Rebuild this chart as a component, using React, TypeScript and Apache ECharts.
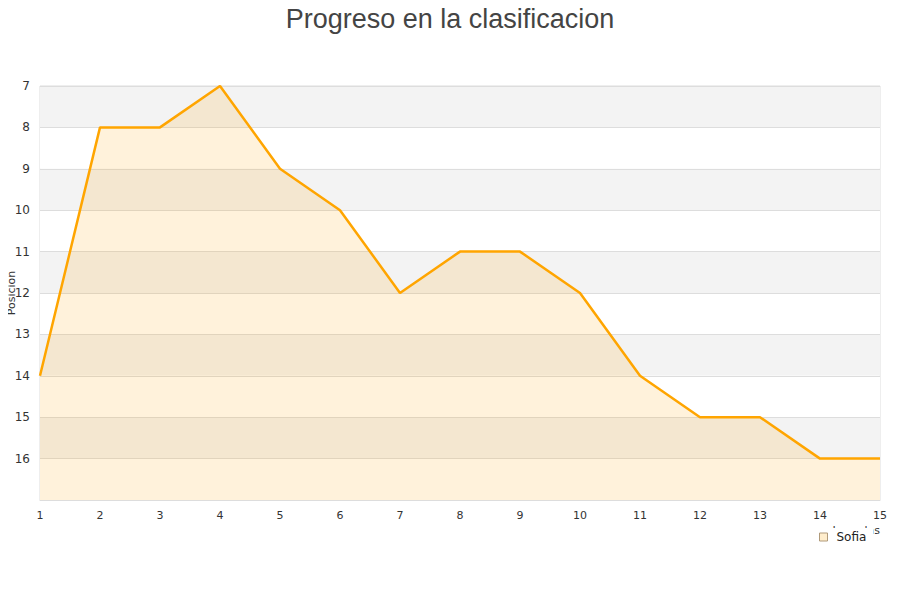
import React, { useEffect, useRef } from "react";
import * as echarts from "echarts";

const rounds = ["1", "2", "3", "4", "5", "6", "7", "8", "9", "10", "11", "12", "13", "14", "15"];
const sofiaPositions = [14, 8, 8, 7, 9, 10, 12, 11, 11, 12, 14, 15, 15, 16, 16];
const yLabels = [7, 8, 9, 10, 11, 12, 13, 14, 15, 16];

export default function App() {
  const ref = useRef<HTMLDivElement>(null);
  useEffect(() => {
    const chart = echarts.init(ref.current!, null, { renderer: "svg" });
    chart.setOption({
      animation: false,
      textStyle: { fontFamily: "DejaVu Sans" },
      title: {
        text: "Progreso en la clasificacion",
        left: "center",
        top: 0,
        padding: 5,
        textStyle: { fontSize: 27, fontWeight: "normal", color: "#444", fontFamily: "Liberation Sans" },
      },
      grid: {
        left: 40,
        right: 20,
        top: 86,
        bottom: 100,
        show: true,
        borderColor: "#ddd",
        borderWidth: 1,
        containLabel: false,
        outerBoundsMode: "none",
      },
      graphic: [
        {
          type: "text",
          x: 11,
          y: 293,
          rotation: Math.PI / 2,
          style: {
            text: "Posicion",
            fontSize: 11,
            fontFamily: "DejaVu Sans",
            fill: "#333",
            align: "center",
            verticalAlign: "middle",
          },
        },
      ],
      legend: {
        data: ["Sofia"],
        left: 812,
        top: 528,
        backgroundColor: "#fff",
        padding: [3, 7, 6, 7],
        itemWidth: 8,
        itemHeight: 8,
        itemGap: 5,
        icon: "rect",
        itemStyle: { color: "#ffedcc", borderColor: "#b09a7a", borderWidth: 1 },
        textStyle: { fontSize: 12, color: "#222", padding: [0, 0, 0, 4] },
      },
      xAxis: {
        type: "category",
        data: rounds,
        boundaryGap: false,
        name: "Jornadas",
        nameLocation: "end",
        nameGap: 0,
        nameMoveOverlap: false,
        nameTextStyle: { fontSize: 11, color: "#333", align: "right", verticalAlign: "top", padding: [25, 0, 0, 0] },
        axisLine: { lineStyle: { color: "#ddd" } },
        axisTick: { show: false },
        axisLabel: { color: "#333", fontSize: 11, margin: 10 },
        splitLine: { show: false },
      },
      yAxis: {
        type: "value",
        inverse: true,
        min: 7,
        max: 17,
        interval: 1,
        axisLine: { show: false },
        axisTick: { show: false },
        axisLabel: {
          color: "#333",
          fontSize: 12,
          margin: 10,
          formatter: (v: number) => (yLabels.includes(v) ? String(v) : ""),
        },
        splitLine: { show: true, lineStyle: { color: "#ddd" } },
        splitArea: { show: true, areaStyle: { color: ["#f3f3f3", "#ffffff"] } },
      },
      series: [
        {
          name: "Sofia",
          type: "line",
          data: sofiaPositions,
          symbol: "none",
          lineStyle: { color: "#ffa500", width: 2.5 },
          itemStyle: { color: "#ffa500" },
          areaStyle: { color: "rgba(255,165,0,0.2)", origin: "end" },
        },
      ],
    });
    return () => chart.dispose();
  }, []);
  return <div ref={ref} style={{ width: 900, height: 600, margin: -8 }} />;
}
